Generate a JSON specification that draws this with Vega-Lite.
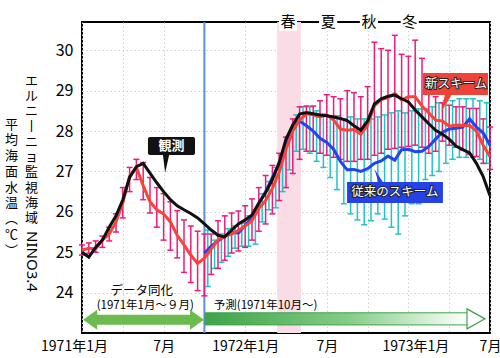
{
  "$schema": "https://vega.github.io/schema/vega-lite/v6.json",
  "width": 408,
  "height": 311,
  "autosize": "none",
  "padding": {"left": 82, "top": 22, "right": 10, "bottom": 25},
  "background": "white",
  "config": {
    "view": {"stroke": "#000", "strokeWidth": 2},
    "font": "Noto Sans CJK JP",
    "axis": {"grid": true, "gridColor": "#cfcfcf", "gridDash": [1.5, 2.5], "gridWidth": 1, "domain": false, "ticks": false, "labelFont": "Noto Sans CJK JP", "labelColor": "#000", "titleFont": "Noto Sans CJK JP", "titleColor": "#000", "titleFontWeight": "normal"}
  },
  "datasets": {
    "series": [
      {"month": 0, "observed": 25.0, "new_scheme": 25.05, "new_lo": 24.93, "new_hi": 25.18, "old_scheme": null},
      {"month": 0.5, "observed": 24.88, "new_scheme": 25.1, "new_lo": 24.97, "new_hi": 25.23, "old_scheme": null},
      {"month": 1, "observed": 25.12, "new_scheme": 25.08, "new_lo": 25.0, "new_hi": 25.28, "old_scheme": null},
      {"month": 1.5, "observed": 25.3, "new_scheme": 25.3, "new_lo": 25.12, "new_hi": 25.4, "old_scheme": null},
      {"month": 2, "observed": 25.62, "new_scheme": 25.45, "new_lo": 25.28, "new_hi": 25.62, "old_scheme": null},
      {"month": 2.5, "observed": 25.9, "new_scheme": 25.75, "new_lo": 25.5, "new_hi": 25.95, "old_scheme": null},
      {"month": 3, "observed": 26.3, "new_scheme": 26.22, "new_lo": 25.85, "new_hi": 26.6, "old_scheme": null},
      {"month": 3.5, "observed": 26.85, "new_scheme": 26.88, "new_lo": 26.5, "new_hi": 27.1, "old_scheme": null},
      {"month": 4, "observed": 27.12, "new_scheme": 27.1, "new_lo": 26.8, "new_hi": 27.3, "old_scheme": null},
      {"month": 4.5, "observed": 27.2, "new_scheme": 26.65, "new_lo": 26.3, "new_hi": 27.22, "old_scheme": null},
      {"month": 5, "observed": 26.96, "new_scheme": 26.25, "new_lo": 25.97, "new_hi": 26.85, "old_scheme": null},
      {"month": 5.5, "observed": 26.72, "new_scheme": 26.05, "new_lo": 25.62, "new_hi": 26.6, "old_scheme": null},
      {"month": 6, "observed": 26.5, "new_scheme": 25.95, "new_lo": 25.3, "new_hi": 26.45, "old_scheme": null},
      {"month": 6.5, "observed": 26.3, "new_scheme": 25.75, "new_lo": 25.05, "new_hi": 26.25, "old_scheme": null},
      {"month": 7, "observed": 26.15, "new_scheme": 25.42, "new_lo": 24.86, "new_hi": 26.03, "old_scheme": null},
      {"month": 7.5, "observed": 26.05, "new_scheme": 25.18, "new_lo": 24.5, "new_hi": 25.8, "old_scheme": null},
      {"month": 8, "observed": 25.96, "new_scheme": 24.93, "new_lo": 24.25, "new_hi": 25.65, "old_scheme": null},
      {"month": 8.5, "observed": 25.85, "new_scheme": 24.72, "new_lo": 24.05, "new_hi": 25.52, "old_scheme": null},
      {"month": 9, "observed": 25.7, "new_scheme": 24.85, "new_lo": 23.92, "new_hi": 25.45, "old_scheme": 24.98},
      {"month": 9.5, "observed": 25.55, "new_scheme": 25.08, "new_lo": 24.45, "new_hi": 25.45, "old_scheme": 25.15},
      {"month": 10, "observed": 25.42, "new_scheme": 25.3, "new_lo": 24.6, "new_hi": 25.78, "old_scheme": 25.28},
      {"month": 10.5, "observed": 25.38, "new_scheme": 25.4, "new_lo": 24.8, "new_hi": 25.9, "old_scheme": 25.4},
      {"month": 11, "observed": 25.55, "new_scheme": 25.45, "new_lo": 24.98, "new_hi": 25.97, "old_scheme": 25.5},
      {"month": 11.5, "observed": 25.7, "new_scheme": 25.54, "new_lo": 25.03, "new_hi": 26.02, "old_scheme": 25.47},
      {"month": 12, "observed": 25.8, "new_scheme": 25.65, "new_lo": 25.12, "new_hi": 26.15, "old_scheme": 25.67},
      {"month": 12.5, "observed": 25.92, "new_scheme": 25.78, "new_lo": 25.3, "new_hi": 26.32, "old_scheme": 25.85},
      {"month": 13, "observed": 26.22, "new_scheme": 26.08, "new_lo": 25.52, "new_hi": 26.6, "old_scheme": 26.2},
      {"month": 13.5, "observed": 26.47, "new_scheme": 26.28, "new_lo": 25.7, "new_hi": 26.9, "old_scheme": 26.5},
      {"month": 14, "observed": 26.8, "new_scheme": 26.58, "new_lo": 25.95, "new_hi": 27.15, "old_scheme": 26.85},
      {"month": 14.5, "observed": 27.22, "new_scheme": 26.98, "new_lo": 26.28, "new_hi": 27.45, "old_scheme": 27.2},
      {"month": 15, "observed": 27.8, "new_scheme": 27.55, "new_lo": 26.6, "new_hi": 27.85, "old_scheme": 27.72},
      {"month": 15.5, "observed": 28.15, "new_scheme": 28.0, "new_lo": 26.95, "new_hi": 28.3, "old_scheme": 28.15},
      {"month": 16, "observed": 28.42, "new_scheme": 28.27, "new_lo": 27.3, "new_hi": 28.6, "old_scheme": 28.25},
      {"month": 16.5, "observed": 28.46, "new_scheme": 28.43, "new_lo": 27.5, "new_hi": 28.62, "old_scheme": 28.13},
      {"month": 17, "observed": 28.43, "new_scheme": 28.4, "new_lo": 27.5, "new_hi": 28.62, "old_scheme": 28.0},
      {"month": 17.5, "observed": 28.4, "new_scheme": 28.35, "new_lo": 27.45, "new_hi": 28.75, "old_scheme": 27.82},
      {"month": 18, "observed": 28.38, "new_scheme": 28.4, "new_lo": 27.4, "new_hi": 28.9, "old_scheme": 27.72},
      {"month": 18.5, "observed": 28.35, "new_scheme": 28.27, "new_lo": 27.35, "new_hi": 28.85, "old_scheme": 27.55},
      {"month": 19, "observed": 28.31, "new_scheme": 28.05, "new_lo": 27.3, "new_hi": 28.8, "old_scheme": 27.25},
      {"month": 19.5, "observed": 28.26, "new_scheme": 28.02, "new_lo": 27.25, "new_hi": 29.0, "old_scheme": 27.04},
      {"month": 20, "observed": 28.13, "new_scheme": 28.04, "new_lo": 27.25, "new_hi": 28.95, "old_scheme": 27.05},
      {"month": 20.5, "observed": 28.02, "new_scheme": 27.92, "new_lo": 27.3, "new_hi": 28.85, "old_scheme": 27.0},
      {"month": 21, "observed": 28.25, "new_scheme": 28.15, "new_lo": 27.3, "new_hi": 29.1, "old_scheme": 27.07},
      {"month": 21.5, "observed": 28.67, "new_scheme": 28.62, "new_lo": 27.4, "new_hi": 30.2, "old_scheme": 27.2},
      {"month": 22, "observed": 28.8, "new_scheme": 28.78, "new_lo": 27.45, "new_hi": 30.04, "old_scheme": 27.26},
      {"month": 22.5, "observed": 28.86, "new_scheme": 28.83, "new_lo": 27.55, "new_hi": 30.0, "old_scheme": 27.38},
      {"month": 23, "observed": 28.89, "new_scheme": 28.93, "new_lo": 27.57, "new_hi": 30.37, "old_scheme": 27.28},
      {"month": 23.5, "observed": 28.8, "new_scheme": 28.77, "new_lo": 27.6, "new_hi": 29.9, "old_scheme": 27.54},
      {"month": 24, "observed": 28.72, "new_scheme": 28.85, "new_lo": 27.62, "new_hi": 29.85, "old_scheme": 27.55},
      {"month": 24.5, "observed": 28.52, "new_scheme": 28.85, "new_lo": 27.65, "new_hi": 30.25, "old_scheme": 27.49},
      {"month": 25, "observed": 28.35, "new_scheme": 28.62, "new_lo": 27.6, "new_hi": 29.8, "old_scheme": 27.5},
      {"month": 25.5, "observed": 28.18, "new_scheme": 28.45, "new_lo": 27.45, "new_hi": 29.26, "old_scheme": 27.62},
      {"month": 26, "observed": 28.02, "new_scheme": 28.27, "new_lo": 27.5, "new_hi": 28.85, "old_scheme": 27.8},
      {"month": 26.5, "observed": 27.92, "new_scheme": 28.25, "new_lo": 27.75, "new_hi": 28.7, "old_scheme": 27.97},
      {"month": 27, "observed": 27.8, "new_scheme": 28.12, "new_lo": 27.65, "new_hi": 28.64, "old_scheme": 28.05},
      {"month": 27.5, "observed": 27.63, "new_scheme": 28.15, "new_lo": 27.6, "new_hi": 28.6, "old_scheme": 28.07},
      {"month": 28, "observed": 27.54, "new_scheme": 28.14, "new_lo": 27.53, "new_hi": 28.6, "old_scheme": 28.1},
      {"month": 28.5, "observed": 27.46, "new_scheme": 28.14, "new_lo": 27.42, "new_hi": 28.56, "old_scheme": 28.3},
      {"month": 29, "observed": 27.2, "new_scheme": 28.0, "new_lo": 27.37, "new_hi": 28.56, "old_scheme": 28.1},
      {"month": 29.5, "observed": 26.87, "new_scheme": 27.65, "new_lo": 27.2, "new_hi": 28.3, "old_scheme": 27.95},
      {"month": 30, "observed": 26.4, "new_scheme": 27.37, "new_lo": 27.05, "new_hi": 28.1, "old_scheme": 27.65}
    ],
    "old_spread": [
      {"month": 9.25, "old_lo": 24.15, "old_hi": 25.55},
      {"month": 9.75, "old_lo": 24.6, "old_hi": 25.3},
      {"month": 10.25, "old_lo": 24.75, "old_hi": 25.45},
      {"month": 10.75, "old_lo": 24.9, "old_hi": 25.58},
      {"month": 11.25, "old_lo": 25.1, "old_hi": 25.65},
      {"month": 11.75, "old_lo": 25.15, "old_hi": 25.72},
      {"month": 12.25, "old_lo": 25.15, "old_hi": 25.9},
      {"month": 12.75, "old_lo": 25.2, "old_hi": 26.05},
      {"month": 13.25, "old_lo": 25.75, "old_hi": 26.45},
      {"month": 13.75, "old_lo": 26.05, "old_hi": 26.75},
      {"month": 14.25, "old_lo": 26.1, "old_hi": 27.1},
      {"month": 14.75, "old_lo": 26.5, "old_hi": 27.4},
      {"month": 15.25, "old_lo": 27.04, "old_hi": 27.85},
      {"month": 15.75, "old_lo": 27.5, "old_hi": 28.4},
      {"month": 16.25, "old_lo": 27.55, "old_hi": 28.6},
      {"month": 16.75, "old_lo": 27.45, "old_hi": 28.6},
      {"month": 17.25, "old_lo": 27.25, "old_hi": 28.5},
      {"month": 17.75, "old_lo": 27.1, "old_hi": 28.42},
      {"month": 18.25, "old_lo": 26.85, "old_hi": 28.38},
      {"month": 18.75, "old_lo": 26.55, "old_hi": 28.38},
      {"month": 19.25, "old_lo": 26.2, "old_hi": 28.3},
      {"month": 19.75, "old_lo": 25.95, "old_hi": 28.35},
      {"month": 20.25, "old_lo": 25.8, "old_hi": 28.3},
      {"month": 20.75, "old_lo": 25.68, "old_hi": 28.3},
      {"month": 21.25, "old_lo": 25.78, "old_hi": 28.3},
      {"month": 21.75, "old_lo": 25.95, "old_hi": 28.35},
      {"month": 22.25, "old_lo": 25.82, "old_hi": 28.4},
      {"month": 22.75, "old_lo": 25.62, "old_hi": 28.45},
      {"month": 23.25, "old_lo": 25.45, "old_hi": 28.5},
      {"month": 23.75, "old_lo": 25.9, "old_hi": 28.45},
      {"month": 24.25, "old_lo": 26.2, "old_hi": 28.5},
      {"month": 24.75, "old_lo": 26.2, "old_hi": 28.55},
      {"month": 25.25, "old_lo": 26.8, "old_hi": 28.55},
      {"month": 25.75, "old_lo": 26.9, "old_hi": 28.6},
      {"month": 26.25, "old_lo": 27.0, "old_hi": 28.7},
      {"month": 26.75, "old_lo": 27.2, "old_hi": 28.75},
      {"month": 27.25, "old_lo": 27.3, "old_hi": 28.75},
      {"month": 27.75, "old_lo": 27.35, "old_hi": 28.8},
      {"month": 28.25, "old_lo": 27.35, "old_hi": 28.8},
      {"month": 28.75, "old_lo": 27.35, "old_hi": 28.8},
      {"month": 29.25, "old_lo": 27.3, "old_hi": 28.75},
      {"month": 29.75, "old_lo": 27.2, "old_hi": 28.7}
    ],
    "seasons": [
      {"season": "春", "month": 15.15},
      {"season": "夏", "month": 18.1},
      {"season": "秋", "month": 21.1},
      {"season": "冬", "month": 24.1}
    ]
  },
  "data": {"name": "series"},
  "resolve": {"axis": {"y": "independent"}},
  "layer": [
    {
      "data": {"values": [{}]},
      "mark": {"type": "rect", "color": "#f9dce6"},
      "encoding": {
        "x": {"datum": 14.35, "type": "quantitative", "scale": {"domain": [0, 30], "nice": false, "zero": false}, "axis": {"orient": "bottom", "values": [0, 3, 6, 9, 12, 15, 18, 21, 24, 27, 30], "labelExpr": "datum.value == 0 ? '1971年1月' : datum.value == 12 ? '1972年1月' : datum.value == 24 ? '1973年1月' : (datum.value == 6 || datum.value == 18 || datum.value == 30) ? '7月' : ''", "labelFontSize": 14, "labelPadding": 6, "title": null, "grid": true, "labelOverlap": false, "labelFlush": false, "labelBound": false, "labelOffset": {"condition": [{"test": "datum.value == 0", "value": -8}, {"test": "datum.value == 24", "value": 7}], "value": 0}}},
        "x2": {"datum": 16.1},
        "y": {"datum": 23.0, "type": "quantitative", "axis": null, "scale": {"domain": [23.0, 30.7], "nice": false, "zero": false}},
        "y2": {"datum": 30.7}
      }
    },
    {
      "data": {"values": [{}]},
      "mark": {"type": "rule", "color": "#5b8fd6", "strokeWidth": 2},
      "encoding": {"x": {"datum": 9, "type": "quantitative"}}
    },
    {
      "data": {"name": "old_spread"},
      "mark": {"type": "rule", "color": "#22c3c6", "strokeWidth": 1.5},
      "encoding": {
        "x": {"field": "month", "type": "quantitative"},
        "y": {"field": "old_lo", "type": "quantitative", "axis": null},
        "y2": {"field": "old_hi"}
      }
    },
    {
      "data": {"name": "old_spread"},
      "mark": {"type": "tick", "orient": "horizontal", "size": 6, "thickness": 1.5, "color": "#22c3c6", "opacity": 1},
      "encoding": {
        "x": {"field": "month", "type": "quantitative"},
        "y": {"field": "old_lo", "type": "quantitative", "axis": null}
      }
    },
    {
      "data": {"name": "old_spread"},
      "mark": {"type": "tick", "orient": "horizontal", "size": 6, "thickness": 1.5, "color": "#22c3c6", "opacity": 1},
      "encoding": {
        "x": {"field": "month", "type": "quantitative"},
        "y": {"field": "old_hi", "type": "quantitative", "axis": null}
      }
    },
    {
      "mark": {"type": "rule", "color": "#ec1c7c", "strokeWidth": 1.5},
      "encoding": {
        "x": {"field": "month", "type": "quantitative"},
        "y": {"field": "new_lo", "type": "quantitative", "axis": null},
        "y2": {"field": "new_hi"}
      }
    },
    {
      "mark": {"type": "tick", "orient": "horizontal", "size": 6, "thickness": 1.5, "color": "#ec1c7c", "opacity": 1},
      "encoding": {
        "x": {"field": "month", "type": "quantitative"},
        "y": {"field": "new_lo", "type": "quantitative", "axis": null}
      }
    },
    {
      "mark": {"type": "tick", "orient": "horizontal", "size": 6, "thickness": 1.5, "color": "#ec1c7c", "opacity": 1},
      "encoding": {
        "x": {"field": "month", "type": "quantitative"},
        "y": {"field": "new_hi", "type": "quantitative", "axis": null}
      }
    },
    {
      "mark": {"type": "line", "color": "#2244f0", "strokeWidth": 3},
      "encoding": {
        "x": {"field": "month", "type": "quantitative"},
        "y": {"field": "old_scheme", "type": "quantitative", "axis": {"orient": "left", "labels": false, "grid": false, "title": "NINO3.4", "titleAngle": 90, "titleAlign": "center", "titleBaseline": "middle", "titleX": -51, "titleY": 239, "titleFontSize": 15, "titleFont": "Noto Sans"}}
      }
    },
    {
      "mark": {"type": "line", "color": "#f9423a", "strokeWidth": 3},
      "encoding": {
        "x": {"field": "month", "type": "quantitative"},
        "y": {"field": "new_scheme", "type": "quantitative", "axis": {"orient": "left", "labels": false, "grid": false, "title": ["エ", "ル", "ニ", "丨", "ニ", "ョ", "監", "視", "海", "域"], "titleAngle": 0, "titleAlign": "center", "titleBaseline": "top", "titleX": -51, "titleY": 52, "titleFontSize": 13, "titleLineHeight": 15.3}}
      }
    },
    {
      "mark": {"type": "line", "color": "#111111", "strokeWidth": 3},
      "encoding": {
        "x": {"field": "month", "type": "quantitative"},
        "y": {"field": "observed", "type": "quantitative", "axis": {"orient": "left", "values": [24, 25, 26, 27, 28, 29, 30], "labelFontSize": 16, "labelPadding": 9, "grid": true, "title": ["平", "均", "海", "面", "水", "温", "︵", "℃", "︶"], "titleAngle": 0, "titleAlign": "center", "titleBaseline": "top", "titleX": -71, "titleY": 96, "titleFontSize": 13, "titleLineHeight": 15.75}}
      }
    },
    {
      "data": {"values": [{}]},
      "mark": {"type": "rect", "color": "#111111", "cornerRadius": 2},
      "encoding": {
        "x": {"datum": 4.85, "type": "quantitative"}, "x2": {"datum": 8.31},
        "y": {"datum": 27.41, "type": "quantitative", "axis": null}, "y2": {"datum": 27.85}
      }
    },
    {
      "data": {"values": [{}]},
      "mark": {"type": "point", "shape": "M -0.35 -1 L 0.35 -1 L -0.1 1 Z", "size": 324, "filled": true, "color": "#111111", "opacity": 1},
      "encoding": {
        "x": {"datum": 6.18, "type": "quantitative"},
        "y": {"datum": 27.19, "type": "quantitative", "axis": null}
      }
    },
    {
      "data": {"values": [{}]},
      "mark": {"type": "text", "text": "観測", "color": "white", "fontSize": 13, "font": "Noto Sans CJK JP", "fontWeight": "bold"},
      "encoding": {
        "x": {"datum": 6.58, "type": "quantitative"},
        "y": {"datum": 27.63, "type": "quantitative", "axis": null}
      }
    },
    {
      "data": {"values": [{}]},
      "mark": {"type": "rect", "color": "#ef4238"},
      "encoding": {
        "x": {"datum": 25.07, "type": "quantitative"}, "x2": {"datum": 29.85},
        "y": {"datum": 28.89, "type": "quantitative", "axis": null}, "y2": {"datum": 29.44}
      }
    },
    {
      "data": {"values": [{}]},
      "mark": {"type": "point", "shape": "M -0.1 -1 L 0.7 -1 L -0.5 1 Z", "size": 324, "filled": true, "color": "#ef4238", "opacity": 1},
      "encoding": {
        "x": {"datum": 26.76, "type": "quantitative"},
        "y": {"datum": 28.7, "type": "quantitative", "axis": null}
      }
    },
    {
      "data": {"values": [{}]},
      "mark": {"type": "text", "text": "新スキーム", "color": "#222", "stroke": "#222", "strokeWidth": 2, "fontSize": 12.5, "font": "Noto Sans CJK JP"},
      "encoding": {
        "x": {"datum": 27.5, "type": "quantitative"},
        "y": {"datum": 29.17, "type": "quantitative", "axis": null}
      }
    },
    {
      "data": {"values": [{}]},
      "mark": {"type": "text", "text": "新スキーム", "color": "white", "fontSize": 12.5, "font": "Noto Sans CJK JP"},
      "encoding": {
        "x": {"datum": 27.5, "type": "quantitative"},
        "y": {"datum": 29.17, "type": "quantitative", "axis": null}
      }
    },
    {
      "data": {"values": [{}]},
      "mark": {"type": "rect", "color": "#2442e6"},
      "encoding": {
        "x": {"datum": 19.49, "type": "quantitative"}, "x2": {"datum": 26.54},
        "y": {"datum": 26.22, "type": "quantitative", "axis": null}, "y2": {"datum": 26.74}
      }
    },
    {
      "data": {"values": [{}]},
      "mark": {"type": "point", "shape": "M -0.5 -1 L 0.1 1 L 0.8 1 Z", "size": 196, "filled": true, "color": "#2442e6", "opacity": 1},
      "encoding": {
        "x": {"datum": 21.76, "type": "quantitative"},
        "y": {"datum": 26.89, "type": "quantitative", "axis": null}
      }
    },
    {
      "data": {"values": [{}]},
      "mark": {"type": "text", "text": "従来のスキーム", "color": "#222", "stroke": "#222", "strokeWidth": 2, "fontSize": 12.5, "font": "Noto Sans CJK JP"},
      "encoding": {
        "x": {"datum": 23.01, "type": "quantitative"},
        "y": {"datum": 26.48, "type": "quantitative", "axis": null}
      }
    },
    {
      "data": {"values": [{}]},
      "mark": {"type": "text", "text": "従来のスキーム", "color": "white", "fontSize": 12.5, "font": "Noto Sans CJK JP"},
      "encoding": {
        "x": {"datum": 23.01, "type": "quantitative"},
        "y": {"datum": 26.48, "type": "quantitative", "axis": null}
      }
    },
    {
      "data": {"name": "seasons"},
      "mark": {"type": "point", "shape": "square", "size": 330, "filled": true, "color": "white", "opacity": 1},
      "encoding": {
        "x": {"field": "month", "type": "quantitative"},
        "y": {"datum": 30.7, "type": "quantitative", "axis": null}
      }
    },
    {
      "data": {"name": "seasons"},
      "mark": {"type": "text", "fontSize": 15, "color": "#000", "font": "Noto Sans CJK JP"},
      "encoding": {
        "x": {"field": "month", "type": "quantitative"},
        "y": {"datum": 30.7, "type": "quantitative", "axis": null},
        "text": {"field": "season"}
      }
    },
    {
      "data": {"values": [{}]},
      "mark": {"type": "rule", "color": "#6cbb4e", "strokeWidth": 10},
      "encoding": {
        "x": {"datum": 0.6, "type": "quantitative"}, "x2": {"datum": 8.45},
        "y": {"datum": 23.33, "type": "quantitative", "axis": null}
      }
    },
    {
      "data": {"values": [{}]},
      "mark": {"type": "point", "shape": "M 0.7 -1 L -0.7 0 L 0.7 1 Z", "size": 400, "filled": true, "color": "#6cbb4e", "opacity": 1},
      "encoding": {
        "x": {"datum": 0.6, "type": "quantitative"},
        "y": {"datum": 23.33, "type": "quantitative", "axis": null}
      }
    },
    {
      "data": {"values": [{}]},
      "mark": {"type": "point", "shape": "M -0.7 -1 L 0.7 0 L -0.7 1 Z", "size": 400, "filled": true, "color": "#6cbb4e", "opacity": 1},
      "encoding": {
        "x": {"datum": 8.45, "type": "quantitative"},
        "y": {"datum": 23.33, "type": "quantitative", "axis": null}
      }
    },
    {
      "data": {"values": [{}]},
      "mark": {"type": "rect", "stroke": "#3ea34a", "strokeWidth": 1, "fill": {"gradient": "linear", "x1": 0, "y1": 0, "x2": 1, "y2": 0, "stops": [{"offset": 0, "color": "#3ea34a"}, {"offset": 0.55, "color": "#86cc86"}, {"offset": 1, "color": "#ffffff"}]}},
      "encoding": {
        "x": {"datum": 9.05, "type": "quantitative"}, "x2": {"datum": 28.35},
        "y": {"datum": 23.2, "type": "quantitative", "axis": null}, "y2": {"datum": 23.5}
      }
    },
    {
      "data": {"values": [{}]},
      "mark": {"type": "point", "shape": "M -0.9 -1 L 0.9 0 L -0.9 1 Z", "size": 400, "filled": false, "fill": "white", "stroke": "#3ea34a", "strokeWidth": 1.2, "opacity": 1},
      "encoding": {
        "x": {"datum": 28.97, "type": "quantitative"},
        "y": {"datum": 23.35, "type": "quantitative", "axis": null}
      }
    },
    {
      "data": {"values": [{}]},
      "mark": {"type": "text", "text": "データ同化", "fontSize": 12.5, "color": "#000", "font": "Noto Sans CJK JP"},
      "encoding": {
        "x": {"datum": 4.4, "type": "quantitative"},
        "y": {"datum": 24.04, "type": "quantitative", "axis": null}
      }
    },
    {
      "data": {"values": [{}]},
      "mark": {"type": "text", "text": "(1971年1月～９月)", "fontSize": 11.5, "color": "#000", "font": "Noto Sans CJK JP"},
      "encoding": {
        "x": {"datum": 4.65, "type": "quantitative"},
        "y": {"datum": 23.67, "type": "quantitative", "axis": null}
      }
    },
    {
      "data": {"values": [{}]},
      "mark": {"type": "text", "text": "予測(1971年10月～)", "fontSize": 11.5, "color": "#000", "font": "Noto Sans CJK JP"},
      "encoding": {
        "x": {"datum": 13.5, "type": "quantitative"},
        "y": {"datum": 23.67, "type": "quantitative", "axis": null}
      }
    }
  ]
}
